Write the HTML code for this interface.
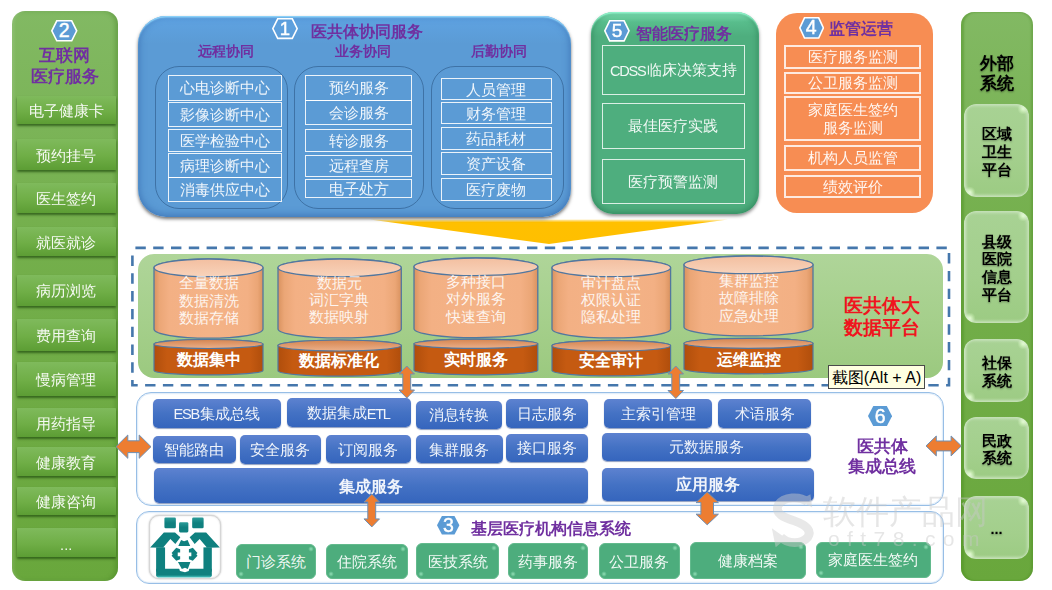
<!DOCTYPE html>
<html lang="zh"><head><meta charset="utf-8"><title>医共体信息平台总体架构</title>
<style>
html,body{margin:0;padding:0;background:#fff;}
body{width:1052px;height:590px;position:relative;overflow:hidden;font-family:"Liberation Sans",sans-serif;}
#root{position:absolute;left:0;top:0;width:1052px;height:590px;overflow:hidden;filter:blur(0.5px);}
#root div,#root svg,#tipwrap div{position:absolute;box-sizing:border-box;}
#tipwrap{position:absolute;left:0;top:0;width:0;height:0;}
.t{white-space:nowrap;text-align:center;}
.c{display:flex;align-items:center;justify-content:center;text-align:center;white-space:nowrap;padding-top:2px;}
.la{letter-spacing:-1.3px;margin-right:1.3px;}
.side{border-radius:13px;background:linear-gradient(to bottom,#82b963 0%,#74af4c 40%,#69a73c 100%);box-shadow:inset -3px 0 4px rgba(60,120,30,.35),inset 2px 0 3px rgba(255,255,255,.12);}
.lb{color:rgba(255,255,255,.93);font-size:14.6px;background:linear-gradient(to bottom,#7fba5c 0%,#6fae46 55%,#5c9d34 100%);box-shadow:0 2px 2.5px rgba(40,85,20,.8);border-radius:1px;}
.rb{color:#000;font-weight:bold;font-size:14.6px;line-height:17.8px;border-radius:12px;background:radial-gradient(circle at calc(100% - 6px) 5px,rgba(225,255,205,.9) 0,rgba(225,255,205,0) 5.5px),radial-gradient(circle at 6px calc(100% - 5px),rgba(225,255,205,.9) 0,rgba(225,255,205,0) 5.5px),linear-gradient(to bottom,#a8d294 0%,#a3cf8c 60%,#9ccb83 100%);box-shadow:inset 2px -2px 3px rgba(255,255,255,.45),inset -2px 2px 3px rgba(255,255,255,.35);white-space:normal;text-shadow:0 1px 2px rgba(0,0,0,.35);}
.pur{color:#7030a0;font-weight:bold;}
.hex span{position:absolute;left:0;top:0;width:100%;text-align:center;color:#fff;-webkit-text-stroke:0.45px #fff;}
.p1{border-radius:28px;background:linear-gradient(to bottom,#5fa3e2 0%,#5b9bd5 14%,#5b9bd5 100%);box-shadow:inset 0 2px 1.5px -0.5px rgba(150,220,255,.95),inset 0 -1px 7px 1px rgba(45,95,165,.6),0 2px 3.5px rgba(0,0,0,.55);}
.sub{border-radius:24px;border:1px solid rgba(52,100,150,.75);}
.it{border:1.6px solid rgba(255,255,255,.88);color:rgba(255,255,255,.9);font-size:14.6px;}
.p5{border-radius:22px;background:linear-gradient(to bottom,#7fe0b4 0%,#58bd8c 5%,#4eae7e 12%,#4eae7e 100%);box-shadow:inset 0 2px 1.5px -0.5px rgba(150,250,210,.95),inset 0 -1px 6px 1px rgba(30,110,70,.55),0 2px 3.5px rgba(0,0,0,.45);}
.p4{border-radius:21px;background:#f78d53;}
.plat{border-radius:16px;background:linear-gradient(to bottom,#afd599 0%,#a5cf8b 55%,#9bc97f 100%);}
.ct{color:rgba(255,255,255,.88);font-size:14.6px;line-height:17.4px;white-space:nowrap;text-align:center;}
.cb{color:#fff;font-size:16.4px;font-weight:bold;white-space:nowrap;text-align:center;}
.red{color:#f0141e;font-weight:bold;font-size:18.8px;line-height:22.6px;text-align:center;white-space:nowrap;}
.tip{background:#ffffe1;border:1px solid #4a4a4a;color:#000;font-size:16px;padding-top:2px;}
.frame{border-radius:15px;border:1.4px solid #97bee6;background:#fff;box-shadow:inset 0 0 0 1.2px #e3eef9;}
.bb{color:rgba(255,255,255,.92);font-size:14.6px;border-radius:5px;background:linear-gradient(to bottom,#5d82d0 0%,#4472c4 50%,#3565bd 100%);box-shadow:0 1px 1px rgba(30,60,130,.5);}
.bb.big{font-size:16.4px;font-weight:bold;}
.gb{color:rgba(255,255,255,.93);font-size:14.6px;border-radius:6px;background:radial-gradient(circle at calc(100% - 4px) 4px,rgba(190,255,220,.6) 0,rgba(190,255,220,0) 2.8px),radial-gradient(circle at 4px calc(100% - 4px),rgba(190,255,220,.6) 0,rgba(190,255,220,0) 2.8px),#4dad7d;border:1.5px solid #63ba8d;}
.icon{border-radius:10px;background:#fff;border:1.2px solid #d6d6d6;box-shadow:0 0 2px rgba(0,0,0,.3),inset 0 0 2px rgba(0,0,0,.12);}
.wm{color:rgba(200,200,200,.45);white-space:nowrap;}
</style></head>
<body><div id="root">
<div class="side" style="left:11.8px;top:10.6px;width:106.4px;height:570.6px;"></div>
<div class="hex" style="left:51.0px;top:20.0px;width:26.5px;height:21.6px;font-size:19.5px;font-weight:normal;line-height:21.6px"><svg width="26.5" height="21.6"><polygon points="0.8,10.8 5.8,0.8 20.7,0.8 25.7,10.8 20.7,20.8 5.8,20.8" fill="#5b9bd5" stroke="#fff" stroke-width="1.6"/></svg><span>2</span></div>
<div class="t pur" style="left:11.8px;top:46.0px;width:106.4px;height:20.0px;font-size:16.6px;line-height:20px;">互联网</div>
<div class="t pur" style="left:11.8px;top:67.0px;width:106.4px;height:20.0px;font-size:16.6px;line-height:20px;">医疗服务</div>
<div class="lb c" style="left:16.6px;top:96.3px;width:99.2px;height:28.0px;padding-top:3.4px;">电子健康卡</div>
<div class="lb c" style="left:16.6px;top:139.3px;width:99.2px;height:30.7px;padding-top:3.4px;">预约挂号</div>
<div class="lb c" style="left:16.6px;top:183.4px;width:99.2px;height:29.2px;padding-top:3.4px;">医生签约</div>
<div class="lb c" style="left:16.6px;top:227.0px;width:99.2px;height:29.2px;padding-top:3.4px;">就医就诊</div>
<div class="lb c" style="left:16.6px;top:274.6px;width:99.2px;height:31.2px;padding-top:3.4px;">病历浏览</div>
<div class="lb c" style="left:16.6px;top:319.4px;width:99.2px;height:31.2px;padding-top:3.4px;">费用查询</div>
<div class="lb c" style="left:16.6px;top:361.6px;width:99.2px;height:34.6px;padding-top:3.4px;">慢病管理</div>
<div class="lb c" style="left:16.6px;top:408.0px;width:99.2px;height:29.4px;padding-top:3.4px;">用药指导</div>
<div class="lb c" style="left:16.6px;top:447.4px;width:99.2px;height:28.8px;padding-top:3.4px;">健康教育</div>
<div class="lb c" style="left:16.6px;top:486.6px;width:99.2px;height:28.8px;padding-top:3.4px;">健康咨询</div>
<div class="lb c" style="left:16.6px;top:528.4px;width:99.2px;height:29.0px;padding-top:3.4px;">...</div>
<div class="side" style="left:960.7px;top:11.7px;width:72.0px;height:569.6px;box-shadow:inset 3px 0 2px rgba(75,140,30,.42),inset -2px 0 2px rgba(70,130,30,.3);"></div>
<div class="t" style="left:960.8px;top:52.5px;width:72.0px;height:21.0px;font-size:16.8px;font-weight:bold;line-height:21px;text-shadow:0 1px 2px rgba(0,0,0,.4);">外部</div>
<div class="t" style="left:960.8px;top:73.2px;width:72.0px;height:21.0px;font-size:16.8px;font-weight:bold;line-height:21px;text-shadow:0 1px 2px rgba(0,0,0,.4);">系统</div>
<div class="rb c" style="left:964.4px;top:104.2px;width:64.4px;height:93.3px;padding-top:4px;">区域<br>卫生<br>平台</div>
<div class="rb c" style="left:964.4px;top:211.3px;width:64.4px;height:111.7px;padding-top:4px;">县级<br>医院<br>信息<br>平台</div>
<div class="rb c" style="left:964.4px;top:339.4px;width:64.4px;height:62.6px;padding-top:4px;">社保<br>系统</div>
<div class="rb c" style="left:964.4px;top:417.3px;width:64.4px;height:62.1px;padding-top:4px;">民政<br>系统</div>
<div class="rb c" style="left:964.4px;top:496.2px;width:64.4px;height:62.6px;padding-top:4px;">...</div>
<svg style="left:360px;top:214px" width="380" height="34"><defs><linearGradient id="yg" x1="0" y1="0" x2="0" y2="1"><stop offset="0" stop-color="#ffc000" stop-opacity="0.25"/><stop offset="0.12" stop-color="#ffc000" stop-opacity="1"/><stop offset="1" stop-color="#ffbf00"/></linearGradient></defs><polygon points="10,5.5 368,5.5 189,30" fill="url(#yg)"/></svg>
<div class="p1" style="left:137.8px;top:16.4px;width:433.2px;height:201.0px;"></div>
<div class="hex" style="left:272.0px;top:18.4px;width:26.0px;height:21.2px;font-size:18.5px;font-weight:normal;line-height:21.2px"><svg width="26.0" height="21.2"><polygon points="0.8,10.6 5.7,0.8 20.3,0.8 25.2,10.6 20.3,20.4 5.7,20.4" fill="none" stroke="#fff" stroke-width="1.6"/></svg><span>1</span></div>
<div class="t pur" style="left:311.3px;top:20.8px;width:117.0px;height:20.0px;font-size:16.4px;line-height:20px;text-align:left;">医共体协同服务</div>
<div class="t pur" style="left:185.6px;top:41.2px;width:80.0px;height:20.0px;font-size:14.3px;line-height:20px;">远程协同</div>
<div class="t pur" style="left:323.0px;top:41.2px;width:80.0px;height:20.0px;font-size:14.3px;line-height:20px;">业务协同</div>
<div class="t pur" style="left:459.0px;top:41.2px;width:80.0px;height:20.0px;font-size:14.3px;line-height:20px;">后勤协同</div>
<div class="sub" style="left:155.3px;top:65.5px;width:132.7px;height:143.1px;"></div>
<div class="sub" style="left:293.6px;top:65.5px;width:130.6px;height:143.1px;"></div>
<div class="sub" style="left:430.6px;top:65.5px;width:133.8px;height:143.1px;"></div>
<div class="it c" style="left:167.8px;top:75.2px;width:114.4px;height:25.4px;">心电诊断中心</div>
<div class="it c" style="left:167.8px;top:102.0px;width:114.4px;height:24.6px;">影像诊断中心</div>
<div class="it c" style="left:167.8px;top:128.6px;width:114.4px;height:23.6px;">医学检验中心</div>
<div class="it c" style="left:167.8px;top:153.2px;width:114.4px;height:25.2px;">病理诊断中心</div>
<div class="it c" style="left:167.8px;top:177.2px;width:114.4px;height:25.0px;">消毒供应中心</div>
<div class="it c" style="left:305.4px;top:75.2px;width:106.4px;height:25.4px;">预约服务</div>
<div class="it c" style="left:305.4px;top:100.2px;width:106.4px;height:25.2px;">会诊服务</div>
<div class="it c" style="left:305.4px;top:128.6px;width:106.4px;height:23.6px;">转诊服务</div>
<div class="it c" style="left:305.4px;top:155.0px;width:106.4px;height:21.6px;">远程查房</div>
<div class="it c" style="left:305.4px;top:179.4px;width:106.4px;height:18.8px;">电子处方</div>
<div class="it c" style="left:440.8px;top:78.0px;width:111.0px;height:22.2px;">人员管理</div>
<div class="it c" style="left:440.8px;top:102.0px;width:111.0px;height:22.2px;">财务管理</div>
<div class="it c" style="left:440.8px;top:126.8px;width:111.0px;height:23.4px;">药品耗材</div>
<div class="it c" style="left:440.8px;top:152.2px;width:111.0px;height:22.6px;">资产设备</div>
<div class="it c" style="left:440.8px;top:178.2px;width:111.0px;height:22.7px;">医疗废物</div>
<div class="p5" style="left:591.0px;top:12.0px;width:168.3px;height:202.0px;"></div>
<div class="hex" style="left:604.2px;top:20.3px;width:25.8px;height:21.7px;font-size:19px;font-weight:normal;line-height:21.7px"><svg width="25.8" height="21.7"><polygon points="0.8,10.8 5.7,0.8 20.1,0.8 25.0,10.8 20.1,20.9 5.7,20.9" fill="#5b9bd5" stroke="#fff" stroke-width="1.6"/></svg><span>5</span></div>
<div class="t pur" style="left:636.4px;top:23.2px;width:101.6px;height:20.0px;font-size:16.4px;line-height:20px;text-align:left;">智能医疗服务</div>
<div class="it c" style="left:602.0px;top:44.8px;width:142.6px;height:50.0px;border-color:rgba(255,255,255,.8);color:rgba(255,255,255,.92);"><span class="la">CDSS</span>临床决策支持</div>
<div class="it c" style="left:602.0px;top:102.5px;width:142.6px;height:46.9px;border-color:rgba(255,255,255,.8);color:rgba(255,255,255,.92);">最佳医疗实践</div>
<div class="it c" style="left:602.0px;top:158.6px;width:142.6px;height:45.0px;border-color:rgba(255,255,255,.8);color:rgba(255,255,255,.92);">医疗预警监测</div>
<div class="p4" style="left:775.6px;top:13.0px;width:157.2px;height:199.6px;"></div>
<div class="hex" style="left:798.6px;top:17.0px;width:25.2px;height:21.8px;font-size:19.5px;font-weight:normal;line-height:21.8px"><svg width="25.2" height="21.8"><polygon points="0.8,10.9 5.5,0.8 19.7,0.8 24.4,10.9 19.7,21.0 5.5,21.0" fill="#5b9bd5" stroke="#fff" stroke-width="1.6"/></svg><span>4</span></div>
<div class="t pur" style="left:829.0px;top:18.0px;width:68.0px;height:20.0px;font-size:16.4px;line-height:20px;text-align:left;">监管运营</div>
<div class="it c" style="left:784.2px;top:44.8px;width:137.0px;height:24.6px;white-space:normal;line-height:17.6px;color:rgba(255,255,255,.92);border-width:2px;border-color:rgba(255,255,255,.82);">医疗服务监测</div>
<div class="it c" style="left:784.2px;top:72.2px;width:137.0px;height:21.4px;white-space:normal;line-height:17.6px;color:rgba(255,255,255,.92);border-width:2px;border-color:rgba(255,255,255,.82);">公卫服务监测</div>
<div class="it c" style="left:784.2px;top:96.3px;width:137.0px;height:44.9px;white-space:normal;line-height:17.6px;color:rgba(255,255,255,.92);border-width:2px;border-color:rgba(255,255,255,.82);">家庭医生签约<br>服务监测</div>
<div class="it c" style="left:784.2px;top:145.0px;width:137.0px;height:25.8px;white-space:normal;line-height:17.6px;color:rgba(255,255,255,.92);border-width:2px;border-color:rgba(255,255,255,.82);">机构人员监管</div>
<div class="it c" style="left:784.2px;top:174.7px;width:137.0px;height:23.5px;white-space:normal;line-height:17.6px;color:rgba(255,255,255,.92);border-width:2px;border-color:rgba(255,255,255,.82);">绩效评价</div>
<svg style="left:128px;top:244px" width="826" height="146"><rect x="4.4" y="3.9" width="816.6" height="137.3" fill="none" stroke="#4577ac" stroke-width="2.6" stroke-dasharray="10.4 7.4" stroke-dashoffset="-3"/></svg>
<div class="plat" style="left:137.6px;top:254.0px;width:805.6px;height:123.8px;"></div>
<svg style="left:152.0px;top:257.4px" width="113.0" height="119.9"><defs><linearGradient id="g154" x1="0" y1="0" x2="1" y2="0"><stop offset="0" stop-color="#d9925f"/><stop offset="0.05" stop-color="#eba676"/><stop offset="0.14" stop-color="#f3b084"/><stop offset="0.5" stop-color="#f4b387"/><stop offset="0.86" stop-color="#f3b084"/><stop offset="0.95" stop-color="#eba676"/><stop offset="1" stop-color="#d9925f"/></linearGradient><linearGradient id="d154" x1="0" y1="0" x2="1" y2="0"><stop offset="0" stop-color="#b04e0c"/><stop offset="0.12" stop-color="#c55a11"/><stop offset="0.88" stop-color="#c55a11"/><stop offset="1" stop-color="#b04e0c"/></linearGradient><linearGradient id="e154" x1="0" y1="0" x2="0" y2="1"><stop offset="0" stop-color="#f3bfa0"/><stop offset="1" stop-color="#f8d3bb"/></linearGradient><linearGradient id="f154" x1="0" y1="0" x2="0" y2="1"><stop offset="0" stop-color="#d58550"/><stop offset="1" stop-color="#ecb08a"/></linearGradient></defs><path d="M2,87.0 A54.5,4.5 0 0 1 111.0,87.0 L111.0,113.4 A54.5,4.5 0 0 1 2,113.4 Z" fill="url(#d154)" stroke="#52779f" stroke-width="1.2"/><ellipse cx="56.5" cy="87.0" rx="54.5" ry="4.5" fill="url(#f154)" stroke="#52779f" stroke-width="1.2"/><path d="M2,10.8 A54.5,8.8 0 0 1 111.0,10.8 L111.0,72.3 A54.5,8.8 0 0 1 2,72.3 Z" fill="url(#g154)" stroke="#52779f" stroke-width="1.3"/><ellipse cx="56.5" cy="10.8" rx="54.5" ry="8.8" fill="url(#e154)" stroke="#52779f" stroke-width="1.3"/></svg>
<div class="ct" style="left:154.0px;top:275.1px;width:109.0px;height:52.2px;">全量数据<br>数据清洗<br>数据存储</div>
<div class="cb c" style="left:154.0px;top:347.3px;width:109.0px;height:24.0px;">数据集中</div>
<svg style="left:275.6px;top:256.7px" width="127.3" height="121.2"><defs><linearGradient id="g277" x1="0" y1="0" x2="1" y2="0"><stop offset="0" stop-color="#d9925f"/><stop offset="0.05" stop-color="#eba676"/><stop offset="0.14" stop-color="#f3b084"/><stop offset="0.5" stop-color="#f4b387"/><stop offset="0.86" stop-color="#f3b084"/><stop offset="0.95" stop-color="#eba676"/><stop offset="1" stop-color="#d9925f"/></linearGradient><linearGradient id="d277" x1="0" y1="0" x2="1" y2="0"><stop offset="0" stop-color="#b04e0c"/><stop offset="0.12" stop-color="#c55a11"/><stop offset="0.88" stop-color="#c55a11"/><stop offset="1" stop-color="#b04e0c"/></linearGradient><linearGradient id="e277" x1="0" y1="0" x2="0" y2="1"><stop offset="0" stop-color="#f3bfa0"/><stop offset="1" stop-color="#f8d3bb"/></linearGradient><linearGradient id="f277" x1="0" y1="0" x2="0" y2="1"><stop offset="0" stop-color="#d58550"/><stop offset="1" stop-color="#ecb08a"/></linearGradient></defs><path d="M2,88.5 A61.6,5.5 0 0 1 125.3,88.5 L125.3,113.7 A61.6,5.5 0 0 1 2,113.7 Z" fill="url(#d277)" stroke="#52779f" stroke-width="1.2"/><ellipse cx="63.6" cy="88.5" rx="61.6" ry="5.5" fill="url(#f277)" stroke="#52779f" stroke-width="1.2"/><path d="M2,10.8 A61.6,8.8 0 0 1 125.3,10.8 L125.3,72.1 A61.6,8.8 0 0 1 2,72.1 Z" fill="url(#g277)" stroke="#52779f" stroke-width="1.3"/><ellipse cx="63.6" cy="10.8" rx="61.6" ry="8.8" fill="url(#e277)" stroke="#52779f" stroke-width="1.3"/></svg>
<div class="ct" style="left:277.6px;top:274.5px;width:123.3px;height:52.2px;">数据元<br>词汇字典<br>数据映射</div>
<div class="cb c" style="left:277.6px;top:348.2px;width:123.3px;height:24.0px;">数据标准化</div>
<svg style="left:412.0px;top:256.2px" width="127.8" height="120.8"><defs><linearGradient id="g414" x1="0" y1="0" x2="1" y2="0"><stop offset="0" stop-color="#d9925f"/><stop offset="0.05" stop-color="#eba676"/><stop offset="0.14" stop-color="#f3b084"/><stop offset="0.5" stop-color="#f4b387"/><stop offset="0.86" stop-color="#f3b084"/><stop offset="0.95" stop-color="#eba676"/><stop offset="1" stop-color="#d9925f"/></linearGradient><linearGradient id="d414" x1="0" y1="0" x2="1" y2="0"><stop offset="0" stop-color="#b04e0c"/><stop offset="0.12" stop-color="#c55a11"/><stop offset="0.88" stop-color="#c55a11"/><stop offset="1" stop-color="#b04e0c"/></linearGradient><linearGradient id="e414" x1="0" y1="0" x2="0" y2="1"><stop offset="0" stop-color="#f3bfa0"/><stop offset="1" stop-color="#f8d3bb"/></linearGradient><linearGradient id="f414" x1="0" y1="0" x2="0" y2="1"><stop offset="0" stop-color="#d58550"/><stop offset="1" stop-color="#ecb08a"/></linearGradient></defs><path d="M2,87.8 A61.9,4.6 0 0 1 125.8,87.8 L125.8,114.2 A61.9,4.6 0 0 1 2,114.2 Z" fill="url(#d414)" stroke="#52779f" stroke-width="1.2"/><ellipse cx="63.9" cy="87.8" rx="61.9" ry="4.6" fill="url(#f414)" stroke="#52779f" stroke-width="1.2"/><path d="M2,10.8 A61.9,8.8 0 0 1 125.8,10.8 L125.8,72.8 A61.9,8.8 0 0 1 2,72.8 Z" fill="url(#g414)" stroke="#52779f" stroke-width="1.3"/><ellipse cx="63.9" cy="10.8" rx="61.9" ry="8.8" fill="url(#e414)" stroke="#52779f" stroke-width="1.3"/></svg>
<div class="ct" style="left:414.0px;top:273.9px;width:123.8px;height:52.2px;">多种接口<br>对外服务<br>快速查询</div>
<div class="cb c" style="left:414.0px;top:347.0px;width:123.8px;height:24.0px;">实时服务</div>
<svg style="left:549.8px;top:256.7px" width="122.6" height="120.9"><defs><linearGradient id="g551" x1="0" y1="0" x2="1" y2="0"><stop offset="0" stop-color="#d9925f"/><stop offset="0.05" stop-color="#eba676"/><stop offset="0.14" stop-color="#f3b084"/><stop offset="0.5" stop-color="#f4b387"/><stop offset="0.86" stop-color="#f3b084"/><stop offset="0.95" stop-color="#eba676"/><stop offset="1" stop-color="#d9925f"/></linearGradient><linearGradient id="d551" x1="0" y1="0" x2="1" y2="0"><stop offset="0" stop-color="#b04e0c"/><stop offset="0.12" stop-color="#c55a11"/><stop offset="0.88" stop-color="#c55a11"/><stop offset="1" stop-color="#b04e0c"/></linearGradient><linearGradient id="e551" x1="0" y1="0" x2="0" y2="1"><stop offset="0" stop-color="#f3bfa0"/><stop offset="1" stop-color="#f8d3bb"/></linearGradient><linearGradient id="f551" x1="0" y1="0" x2="0" y2="1"><stop offset="0" stop-color="#d58550"/><stop offset="1" stop-color="#ecb08a"/></linearGradient></defs><path d="M2,88.7 A59.3,5.4 0 0 1 120.6,88.7 L120.6,113.5 A59.3,5.4 0 0 1 2,113.5 Z" fill="url(#d551)" stroke="#52779f" stroke-width="1.2"/><ellipse cx="61.3" cy="88.7" rx="59.3" ry="5.4" fill="url(#f551)" stroke="#52779f" stroke-width="1.2"/><path d="M2,10.8 A59.3,8.8 0 0 1 120.6,10.8 L120.6,72.1 A59.3,8.8 0 0 1 2,72.1 Z" fill="url(#g551)" stroke="#52779f" stroke-width="1.3"/><ellipse cx="61.3" cy="10.8" rx="59.3" ry="8.8" fill="url(#e551)" stroke="#52779f" stroke-width="1.3"/></svg>
<div class="ct" style="left:551.8px;top:274.5px;width:118.6px;height:52.2px;">审计盘点<br>权限认证<br>隐私处理</div>
<div class="cb c" style="left:551.8px;top:347.9px;width:118.6px;height:24.0px;">安全审计</div>
<svg style="left:682.0px;top:254.4px" width="133.0" height="121.9"><defs><linearGradient id="g684" x1="0" y1="0" x2="1" y2="0"><stop offset="0" stop-color="#d9925f"/><stop offset="0.05" stop-color="#eba676"/><stop offset="0.14" stop-color="#f3b084"/><stop offset="0.5" stop-color="#f4b387"/><stop offset="0.86" stop-color="#f3b084"/><stop offset="0.95" stop-color="#eba676"/><stop offset="1" stop-color="#d9925f"/></linearGradient><linearGradient id="d684" x1="0" y1="0" x2="1" y2="0"><stop offset="0" stop-color="#b04e0c"/><stop offset="0.12" stop-color="#c55a11"/><stop offset="0.88" stop-color="#c55a11"/><stop offset="1" stop-color="#b04e0c"/></linearGradient><linearGradient id="e684" x1="0" y1="0" x2="0" y2="1"><stop offset="0" stop-color="#f3bfa0"/><stop offset="1" stop-color="#f8d3bb"/></linearGradient><linearGradient id="f684" x1="0" y1="0" x2="0" y2="1"><stop offset="0" stop-color="#d58550"/><stop offset="1" stop-color="#ecb08a"/></linearGradient></defs><path d="M2,89.3 A64.5,5.0 0 0 1 131.0,89.3 L131.0,114.9 A64.5,5.0 0 0 1 2,114.9 Z" fill="url(#d684)" stroke="#52779f" stroke-width="1.2"/><ellipse cx="66.5" cy="89.3" rx="64.5" ry="5.0" fill="url(#f684)" stroke="#52779f" stroke-width="1.2"/><path d="M2,10.8 A64.5,8.8 0 0 1 131.0,10.8 L131.0,73.1 A64.5,8.8 0 0 1 2,73.1 Z" fill="url(#g684)" stroke="#52779f" stroke-width="1.3"/><ellipse cx="66.5" cy="10.8" rx="64.5" ry="8.8" fill="url(#e684)" stroke="#52779f" stroke-width="1.3"/></svg>
<div class="ct" style="left:684.0px;top:272.9px;width:129.0px;height:52.2px;">集群监控<br>故障排除<br>应急处理</div>
<div class="cb c" style="left:684.0px;top:346.8px;width:129.0px;height:24.0px;">运维监控</div>
<div class="red" style="left:830.0px;top:294.5px;width:104.0px;height:45.5px;">医共体大<br>数据平台</div>
<div class="frame" style="left:136.1px;top:392.3px;width:807.7px;height:113.5px;"></div>
<div class="frame" style="left:135.9px;top:510.8px;width:808.1px;height:72.8px;border-radius:13px;"></div>
<div class="bb c" style="left:152.8px;top:399.0px;width:128.2px;height:28.5px;"><span class="la">ESB</span>集成总线</div>
<div class="bb c" style="left:287.0px;top:397.8px;width:123.8px;height:29.7px;">数据集成<span class="la">ETL</span></div>
<div class="bb c" style="left:416.0px;top:400.6px;width:86.2px;height:28.1px;">消息转换</div>
<div class="bb c" style="left:505.6px;top:399.0px;width:82.8px;height:28.5px;">日志服务</div>
<div class="bb c" style="left:152.8px;top:435.8px;width:83.2px;height:26.8px;">智能路由</div>
<div class="bb c" style="left:239.5px;top:434.7px;width:81.3px;height:29.0px;">安全服务</div>
<div class="bb c" style="left:325.8px;top:435.0px;width:85.2px;height:28.2px;">订阅服务</div>
<div class="bb c" style="left:416.0px;top:435.0px;width:86.5px;height:28.0px;">集群服务</div>
<div class="bb c" style="left:505.6px;top:433.5px;width:82.8px;height:28.5px;">接口服务</div>
<div class="bb c big" style="left:153.5px;top:468.4px;width:434.9px;height:34.6px;">集成服务</div>
<div class="bb c" style="left:604.3px;top:399.0px;width:108.1px;height:28.5px;">主索引管理</div>
<div class="bb c" style="left:718.3px;top:399.0px;width:93.2px;height:28.5px;">术语服务</div>
<div class="bb c" style="left:602.4px;top:432.8px;width:209.1px;height:28.0px;">元数据服务</div>
<div class="bb c big" style="left:602.4px;top:467.5px;width:211.5px;height:33.7px;">应用服务</div>
<div class="hex" style="left:868.1px;top:405.7px;width:24.1px;height:20.2px;font-size:19.5px;font-weight:normal;line-height:20.2px"><svg width="24.1" height="20.2"><polygon points="0.0,10.1 5.3,0.0 18.8,0.0 24.1,10.1 18.8,20.2 5.3,20.2" fill="#5b9bd5" stroke="none" stroke-width="0"/></svg><span>6</span></div>
<div class="t pur" style="left:832.0px;top:437.0px;width:100.0px;height:20.0px;font-size:16.6px;line-height:20px;">医共体</div>
<div class="t pur" style="left:832.0px;top:457.4px;width:100.0px;height:20.0px;font-size:16.6px;line-height:20px;">集成总线</div>
<div class="hex" style="left:437.2px;top:516.4px;width:22.4px;height:18.4px;font-size:19.5px;font-weight:normal;line-height:18.4px"><svg width="22.4" height="18.4"><polygon points="0.0,9.2 4.9,0.0 17.5,0.0 22.4,9.2 17.5,18.4 4.9,18.4" fill="#5b9bd5" stroke="none" stroke-width="0"/></svg><span>3</span></div>
<div class="t pur" style="left:470.8px;top:517.8px;width:169.2px;height:20.0px;font-size:16.4px;line-height:20px;text-align:left;">基层医疗机构信息系统</div>
<div class="gb c" style="left:236.4px;top:543.7px;width:79.6px;height:35.7px;">门诊系统</div>
<div class="gb c" style="left:326.0px;top:544.3px;width:81.5px;height:35.2px;">住院系统</div>
<div class="gb c" style="left:416.4px;top:543.2px;width:82.6px;height:36.3px;">医技系统</div>
<div class="gb c" style="left:508.4px;top:543.4px;width:79.6px;height:36.1px;">药事服务</div>
<div class="gb c" style="left:598.5px;top:543.4px;width:81.2px;height:36.1px;">公卫服务</div>
<div class="gb c" style="left:690.1px;top:542.0px;width:115.5px;height:37.0px;">健康档案</div>
<div class="gb c" style="left:815.7px;top:541.8px;width:115.3px;height:36.2px;">家庭医生签约</div>
<div class="icon" style="left:148.6px;top:514.8px;width:72.0px;height:63.8px;"></div>
<svg style="left:155px;top:525px;overflow:visible" width="60" height="55" viewBox="0 0 644 590">
<defs><linearGradient id="tq" x1="0" y1="0" x2="0" y2="1"><stop offset="0" stop-color="#2b9c99"/><stop offset="0.5" stop-color="#0f807f"/><stop offset="1" stop-color="#0f807f"/></linearGradient>
<linearGradient id="tb" x1="0" y1="0" x2="0" y2="1"><stop offset="0" stop-color="#0f807f"/><stop offset="0.72" stop-color="#0f807f"/><stop offset="1" stop-color="#48c4c0"/></linearGradient></defs>
<g fill="url(#tq)">
<rect x="101" y="-80" width="123" height="116" rx="14"/><rect x="399" y="-80" width="123" height="116" rx="14"/><rect x="258" y="-30" width="100" height="109" rx="14"/>
</g>
<g fill="#0f807f">
<polygon points="-52,242 95,80 215,80 272,132 218,205 165,150 92,236 92,244"/>
<polygon points="696,242 549,80 429,80 372,132 426,205 479,150 552,236 552,244"/>
<rect x="12" y="240" width="96" height="260"/><rect x="520" y="240" width="90" height="260"/>
</g>
<path d="M12,470 H610 V540 Q610,562 588,562 H34 Q12,562 12,540 Z" fill="url(#tb)"/>
<polygon points="236,392 388,392 362,494 322,506 268,494" fill="#fff"/>
<g fill="#0f807f">
<polygon points="250,226 280,162 312,174 350,162 378,226"/>
<polygon points="246,398 380,398 352,472 322,458 288,472"/>
<polygon points="178,300 228,244 270,260 270,294 244,294 244,334 270,334 270,368 228,384 178,330 190,315"/>
<polygon points="456,300 406,244 364,260 364,294 390,294 390,334 364,334 364,368 406,384 456,330 444,315"/>
</g>
</svg>
<svg style="left:396.6px;top:365.0px" width="19.5" height="34.0"><polygon points="9.8,1.0 17.5,9.0 13.7,9.0 13.7,25.0 17.5,25.0 9.8,33.0 2.0,25.0 5.8,25.0 5.8,9.0 2.0,9.0" fill="#ed7d31" stroke="#6f8fb3" stroke-width="1"/></svg>
<svg style="left:665.8px;top:365.0px" width="19.5" height="34.5"><polygon points="9.8,1.0 17.5,9.0 13.7,9.0 13.7,25.5 17.5,25.5 9.8,33.5 2.0,25.5 5.8,25.5 5.8,9.0 2.0,9.0" fill="#ed7d31" stroke="#6f8fb3" stroke-width="1"/></svg>
<svg style="left:361.6px;top:492.6px" width="19.5" height="34.9"><polygon points="9.8,1.0 17.5,9.0 13.7,9.0 13.7,25.9 17.5,25.9 9.8,33.9 2.0,25.9 5.8,25.9 5.8,9.0 2.0,9.0" fill="#ed7d31" stroke="#6f8fb3" stroke-width="1"/></svg>
<svg style="left:694.3px;top:491.0px" width="26.4" height="34.8"><polygon points="13.2,1.0 24.4,11.6 19.5,11.6 19.5,23.2 24.4,23.2 13.2,33.8 2.0,23.2 6.9,23.2 6.9,11.6 2.0,11.6" fill="#ed7d31" stroke="#6f8fb3" stroke-width="1"/></svg>
<svg style="left:114.7px;top:432.5px" width="37.0" height="27.3"><polygon points="1.0,13.7 12.8,2.0 12.8,7.8 24.2,7.8 24.2,2.0 36.0,13.7 24.2,25.3 24.2,19.6 12.8,19.6 12.8,25.3" fill="#ed7d31" stroke="#6f8fb3" stroke-width="1"/></svg>
<svg style="left:924.7px;top:434.4px" width="37.4" height="23.9"><polygon points="1.0,11.9 11.3,2.0 11.3,7.0 26.1,7.0 26.1,2.0 36.4,11.9 26.1,21.9 26.1,16.9 11.3,16.9 11.3,21.9" fill="#ed7d31" stroke="#6f8fb3" stroke-width="1"/></svg>
<svg style="left:760px;top:485px" width="100" height="70" viewBox="0 0 843 590"><g opacity="0.46"><path d="M400,140 C335,92 200,95 154,168 C118,240 205,275 290,302 C398,338 438,392 402,442 C352,500 235,502 175,438" fill="none" stroke="#cdcdcd" stroke-width="74"/><polygon points="375,105 425,78 440,190 392,165" fill="#cdcdcd"/><polygon points="100,365 222,452 132,525" fill="#cdcdcd"/></g></svg>
<div class="wm" style="left:823.0px;top:493.0px;width:167.0px;height:38.0px;font-size:32.6px;line-height:38px;">软件产品网</div>
<div class="wm" style="left:828.0px;top:527.0px;width:162.0px;height:24.0px;font-size:21px;line-height:24px;letter-spacing:7.4px;">oft78.com</div>
</div>
<div id="tipwrap">
<div class="tip c" style="left:828.3px;top:365.4px;width:96.5px;height:23.3px;">截图(Alt + A)</div>
</div></body></html>
